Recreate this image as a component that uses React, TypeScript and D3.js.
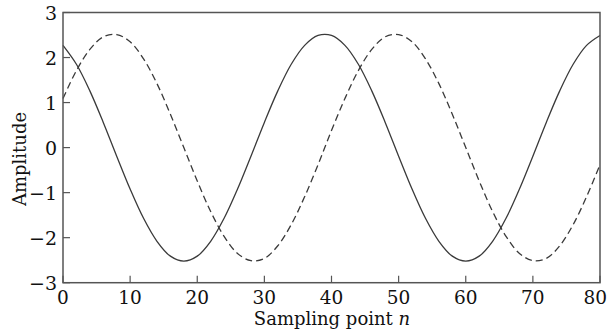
import React from "react";
import * as d3 from "d3";

const sampleN = [0,2,4,6,8,10,12,14,16,18,20,22,24,26,28,30,32,34,36,38,40,42,44,46,48,50,52,54,56,58,60,62,64,66,68,70,72,74,76,78,80];
const solidSeries = [2.27,1.85,1.26,0.56,-0.19,-0.92,-1.57,-2.08,-2.41,-2.52,-2.41,-2.08,-1.57,-0.92,-0.19,0.56,1.26,1.85,2.27,2.49,2.49,2.27,1.85,1.26,0.56,-0.19,-0.92,-1.57,-2.08,-2.41,-2.52,-2.41,-2.08,-1.57,-0.92,-0.19,0.56,1.26,1.85,2.27,2.49];
const dashedSeries = [1.09,1.71,2.18,2.46,2.51,2.35,1.97,1.42,0.74,0.0,-0.74,-1.42,-1.97,-2.35,-2.51,-2.46,-2.18,-1.71,-1.09,-0.38,0.38,1.09,1.71,2.18,2.46,2.51,2.35,1.97,1.42,0.74,0.0,-0.74,-1.42,-1.97,-2.35,-2.51,-2.46,-2.18,-1.71,-1.09,-0.38];
const xTicks = [0,10,20,30,40,50,60,70,80];
const yTicks = [-3,-2,-1,0,1,2,3];
const xLabel = "Sampling point ";
const xLabelItalic = "n";
const yLabel = "Amplitude";

const W = 609, H = 331;
const M = { left: 63, right: 600, top: 12.5, bottom: 282.7 };
const FONT = "'DejaVu Serif', 'Liberation Serif', serif";

export default function App() {
  const x = d3.scaleLinear().domain([0, 80]).range([M.left, M.right]);
  const y = d3.scaleLinear().domain([-3, 3]).range([M.bottom, M.top]);
  const line = d3.line<number>().x((_, i) => x(sampleN[i])).y((v) => y(v)).curve(d3.curveCatmullRom);
  const fmt = (v: number) => (v < 0 ? "\u2212" + Math.abs(v) : String(v));
  return (
    <svg width={W} height={H} style={{ position: "absolute", left: 0, top: 0, background: "#fff" }}>
      <rect x={0} y={0} width={W} height={H} fill="#fff" />
      <path d={line(solidSeries) || ""} fill="none" stroke="#3a3a3a" strokeWidth={1.3} />
      <path d={line(dashedSeries) || ""} fill="none" stroke="#3a3a3a" strokeWidth={1.3} strokeDasharray="7,4" />
      <rect x={M.left} y={M.top} width={M.right - M.left} height={M.bottom - M.top} fill="none" stroke="#555" strokeWidth={1.5} />
      {xTicks.map((t) => {
        const px = x(t);
        const last = px > W - 14;
        return (
          <g key={"x" + t}>
            <line x1={px} x2={px} y1={M.bottom} y2={M.bottom - 7} stroke="#555" strokeWidth={1.2} />
            <text x={last ? W - 2 : px} y={304} textAnchor={last ? "end" : "middle"} fontFamily={FONT} fontSize={18.5} fill="#111">{fmt(t)}</text>
          </g>
        );
      })}
      {yTicks.map((t) => (
        <g key={"y" + t}>
          <line x1={M.left} x2={M.left + 7} y1={y(t)} y2={y(t)} stroke="#555" strokeWidth={1.2} />
          <text x={57} y={y(t) + 7} textAnchor="end" fontFamily={FONT} fontSize={19} fill="#111">{fmt(t)}</text>
        </g>
      ))}
      <text x={332} y={325} textAnchor="middle" fontFamily={FONT} fontSize={18} fill="#111">
        {xLabel}<tspan fontStyle="italic">{xLabelItalic}</tspan>
      </text>
      <text transform={`translate(26,159) rotate(-90)`} textAnchor="middle" fontFamily={FONT} fontSize={18} fill="#111">{yLabel}</text>
    </svg>
  );
}
